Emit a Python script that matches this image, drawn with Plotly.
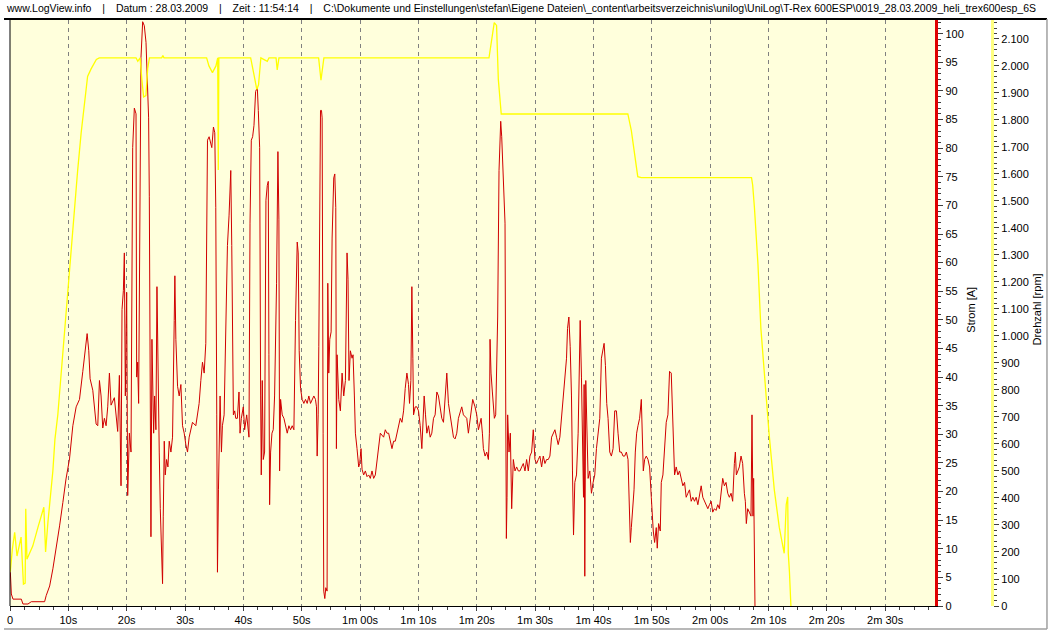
import plotly.graph_objects as go

# ---------------- data (time in seconds) ----------------
strom_t = [0.06, 0.23, 0.51, 1.94, 2.22, 3.08, 3.65, 5.93, 6.2, 6.8, 7.35, 7.9, 8.5, 9.06, 9.6, 10.2, 10.6,
           10.77, 11.34, 11.91, 12.48, 13.05, 13.22, 13.50, 13.73, 14.19, 14.76, 15.04, 15.33, 15.61, 15.90,
           16.18, 16.47, 16.75, 17.04, 17.32, 17.89, 18.46, 18.75, 19.03, 19.20, 19.43, 19.60, 19.77, 20.00,
           20.17, 20.46, 20.74, 21.03, 21.31, 21.60, 21.71, 21.88, 22.05, 22.28, 22.45, 22.74, 23.02, 23.31,
           23.59, 23.76, 23.88, 24.05, 24.16, 24.33, 24.44, 24.62, 24.79, 25.01, 25.19, 25.36, 25.58, 25.76,
           25.98, 26.15, 26.27, 26.44, 26.61, 26.84, 27.07, 27.29, 27.58, 27.86, 28.15, 28.26, 28.43, 28.72,
           29.00, 29.29, 29.57, 29.86, 30.14, 30.43, 30.71, 31.00, 31.28, 31.85, 32.14, 32.42, 32.71, 32.99,
           33.28, 33.56, 33.85, 34.13, 34.59, 34.87, 35.10, 35.27, 35.44, 35.56, 35.73, 35.84, 36.01, 36.24,
           36.41, 36.70, 36.98, 37.27, 37.55, 37.84, 38.01, 38.12, 38.29, 38.52, 38.69,
           38.97, 39.25, 39.43, 39.65, 39.99, 40.22, 40.57, 40.96, 41.14, 41.36, 41.59, 41.82, 42.10, 42.39,
           42.56, 42.79, 42.96, 43.07, 43.24, 43.41, 43.64, 43.87, 44.10, 44.27, 44.38, 44.50, 44.67, 44.90,
           45.12, 45.35, 45.69, 45.81, 45.92, 46.09, 46.21, 46.38, 46.66, 46.95, 47.23, 47.52, 47.80, 48.09,
           48.37, 48.66, 48.94, 49.23, 49.40, 49.57, 49.80, 50.08, 50.37, 50.65, 50.94, 51.22, 51.51, 51.79,
           52.08, 52.36, 52.53, 52.65, 52.82, 52.93, 53.10, 53.22, 53.39, 53.50, 53.67, 53.78, 53.96, 54.13,
           54.35, 54.47, 54.64, 54.81, 55.04, 55.21, 55.49, 55.67, 55.84, 55.95, 56.06, 56.35, 56.63, 56.92,
           57.20, 57.49, 57.77, 57.94, 58.11, 58.34, 58.63, 58.80, 59.03, 59.20, 59.48, 59.77, 59.94, 60.17,
           60.34, 60.62, 60.91, 61.19, 61.48, 61.76, 62.05, 62.33, 62.62, 62.90, 63.19, 63.47, 64.04, 64.33,
           64.61, 64.90, 65.47, 65.75, 66.04, 66.32, 66.61, 66.89, 67.18, 67.46, 67.74, 68.03, 68.31, 68.48,
           68.71, 68.88, 69.05, 69.17, 69.45, 69.74, 70.02, 70.31, 70.59, 70.76, 70.99, 71.22, 71.45, 71.73,
           72.02, 72.30, 72.59, 72.87, 73.16, 73.44, 73.73, 74.01, 74.30, 74.58, 74.87, 75.15, 75.44, 75.72,
           76.01, 76.29, 76.58, 76.86, 77.15, 77.43, 77.72, 78.29, 78.57, 78.86, 79.31, 79.71,
           80.00, 80.29, 80.57, 80.75, 80.97, 81.14, 81.43, 81.71, 82.00, 82.17, 82.28, 82.45, 82.68, 82.85,
           83.02, 83.25, 83.42, 83.59, 83.82, 83.99, 84.11, 84.28, 84.45, 84.62, 84.85, 84.96, 85.08, 85.19,
           85.30, 85.53, 85.76, 85.99, 86.10, 86.27, 86.56, 86.84, 87.13, 87.41, 87.70, 87.98, 88.27, 88.55,
           88.84, 89.12, 89.41, 89.69, 89.98, 90.26, 90.55, 90.83, 91.12, 91.40, 91.69, 91.97, 92.26, 92.54,
           92.83, 93.11, 93.40, 93.68, 93.96, 94.25, 94.53, 94.82, 95.10, 95.39, 95.56, 95.79, 96.02, 96.24,
           96.41, 96.59, 96.81, 97.10, 97.38, 97.55, 97.73, 97.95, 98.12, 98.30, 98.41, 98.52, 98.69, 98.87,
           99.09, 99.38, 99.66, 99.95, 100.23, 100.52, 100.80, 101.09, 101.37, 101.66, 101.83, 102.06, 102.28,
           102.51, 102.80, 103.08, 103.37, 103.65, 103.94, 104.22, 104.51, 104.79, 105.08, 105.36, 105.65,
           105.93, 106.16, 106.33, 106.50, 106.79, 106.96, 107.18, 107.41, 107.64, 107.92, 108.21, 108.38,
           108.55, 108.78, 109.06, 109.35, 109.63, 109.92, 110.09, 110.26, 110.49, 110.77, 110.94, 111.17,
           111.46, 111.63, 111.91, 112.20, 112.48, 112.77, 113.05, 113.34, 113.62, 113.91, 114.19, 114.48,
           114.76, 115.05, 115.33, 115.62, 115.90, 116.19, 116.47, 116.76, 117.04, 117.33, 117.61, 117.90,
           118.18, 118.47, 118.75, 119.04, 119.32, 119.61, 119.89, 120.18,
           120.45, 120.74, 121.02, 121.31, 121.59, 121.88, 122.16, 122.45, 122.73, 123.02, 123.30, 123.59,
           123.87, 124.16, 124.33, 124.50, 124.73, 125.01, 125.30, 125.58, 125.87, 126.04, 126.21, 126.44,
           126.72, 127.01, 127.18, 127.35, 127.46, 127.58, 127.69]

strom_a = [5.9, 2.1, 1.2, 1.2, 0.35, 0.35, 0.75, 0.75, 1.8, 3.5, 6.5, 9.9, 14.0, 18.1, 22.2, 25.7, 29.1,
           31.5, 34.8, 36.1, 41.0, 46.6, 47.6, 44.6, 39.7, 37.7, 31.8, 31.5, 39.4, 36.7, 31.1,
           32.8, 31.5, 34.8, 40.7, 35.1, 36.4, 30.5, 40.3, 21.0, 51.8, 55.1, 61.7, 36.7, 54.8,
           19.3, 30.2, 26.9, 80.1, 87.0, 86.0, 40.0, 42.6, 35.4, 70.9, 95.8, 102.1, 101.4, 98.5,
           90.6, 85.3, 71.5, 20.3, 12.1, 46.6, 38.0, 30.2, 36.7, 30.8, 55.8, 38.0, 26.9, 17.0,
           10.5, 3.9, 15.7, 28.8, 22.9, 25.6, 24.3, 28.8, 26.9, 29.5, 49.9, 57.7, 46.6, 38.4,
           36.7, 38.7, 31.5, 30.2, 28.2, 26.9, 29.5, 30.8, 32.1, 31.5, 33.4, 35.4, 39.4, 42.6,
           40.7, 45.9, 81.4, 82.0, 80.1, 83.7, 82.7, 69.6, 33.4, 5.9, 20.3, 31.5, 36.7, 26.9,
           31.5, 33.4, 49.9, 63.0, 68.3, 76.1, 63.0, 45.9, 33.4, 34.1, 32.8,
           32.8, 37.4, 30.2, 32.8, 34.8, 30.8, 33.4, 29.5, 66.9, 81.4, 82.0, 84.0, 89.9, 90.6,
           86.6, 80.1, 36.7, 22.9, 39.4, 25.6, 26.9, 70.9, 73.5, 74.2, 43.9, 17.7, 26.9, 30.2,
           30.8, 36.7, 56.4, 72.8, 79.4, 67.6, 23.6, 36.1, 33.4, 32.8, 31.5, 30.2, 31.5, 30.8,
           31.5, 30.8, 49.9, 63.6, 61.7, 44.6, 38.0, 36.1, 35.4, 36.1, 35.4, 36.7, 35.4, 36.1,
           36.7, 36.1, 34.8, 26.2, 33.4, 45.3, 76.1, 86.6, 86.6, 85.3, 30.2, 2.6, 1.3, 3.2,
           2.6, 56.4, 40.7, 46.6, 47.9, 64.3, 74.8, 75.5, 69.6, 27.5, 43.9, 36.1, 34.1, 40.7,
           36.7, 39.4, 61.7, 57.1, 39.4, 44.6, 43.3, 43.9, 36.7, 30.2, 27.5, 24.3, 24.9, 27.5,
           23.9, 22.9, 23.6, 22.6, 22.9, 22.3, 23.6, 22.3, 22.9, 25.6, 27.5, 30.2, 29.5, 30.8,
           30.2, 30.2, 27.5, 28.8, 28.8, 30.2, 31.5, 32.8, 32.1, 34.1, 38.0, 40.7, 38.7, 35.4,
           39.4, 55.8, 43.3, 33.4, 34.8, 34.8, 34.1, 31.5, 27.5, 32.8, 36.7, 33.4, 30.2, 31.5,
           29.5, 30.2, 32.8, 33.4, 37.4, 36.7, 34.8, 32.8, 32.1, 36.7, 40.7, 35.4, 33.4, 31.5,
           29.5, 29.2, 30.2, 32.8, 34.1, 34.8, 33.4, 32.8, 30.2, 32.8, 36.1, 34.8,
           33.4, 30.8, 32.1, 32.8, 30.2, 27.5, 26.2, 26.9, 25.6, 30.2, 46.6, 40.7, 37.4, 34.1,
           32.8, 33.4, 42.6, 50.5, 76.1, 82.7, 84.7, 82.0, 77.4, 72.8, 66.9, 37.4, 11.8, 19.0,
           33.4, 26.9, 30.2, 17.0, 22.3, 25.6, 23.6, 24.3, 23.6, 23.6, 24.3, 24.9, 23.6, 25.6,
           23.6, 26.2, 26.9, 30.8, 25.6, 24.9, 25.6, 26.2, 24.3, 26.2, 24.9, 25.6, 25.6, 26.2,
           29.5, 30.2, 30.8, 29.5, 28.2, 29.5, 32.8, 35.4, 39.4, 43.3, 48.5, 50.5, 45.3, 36.7,
           23.6, 12.4, 21.6, 22.9, 30.2, 43.9, 49.9, 40.0, 30.2, 19.0, 38.7, 5.2, 39.4, 31.5,
           22.3, 23.6, 19.7, 21.6, 22.9, 27.5, 30.2, 32.8, 43.3, 45.3, 45.9, 42.0, 35.4,
           32.8, 26.9, 26.2, 27.5, 34.1, 34.1, 30.2, 26.9, 26.9, 26.2, 26.2, 26.9,
           25.6, 17.0, 11.1, 13.7, 17.0, 20.3, 26.9, 30.2, 31.5, 32.8, 36.1, 30.2,
           23.6, 25.6, 26.2, 25.6, 24.3, 19.0, 15.1, 13.1, 11.1, 13.7, 10.1, 14.4,
           13.1, 21.6, 22.9, 28.8, 32.1, 33.4, 41.0, 40.7, 30.2, 22.9, 24.3, 22.9,
           23.6, 22.3, 21.0, 21.6, 19.0, 19.7, 20.3, 18.3, 19.0, 18.3, 19.0, 17.7,
           19.7, 21.0, 19.0, 18.3, 17.7, 17.0, 17.7, 18.3,
           16.4, 17.0, 16.7, 17.7, 17.0, 19.7, 22.3, 21.0, 21.6, 19.7, 19.0, 19.7,
           18.3, 24.9, 26.9, 22.9, 23.6, 24.3, 26.2, 24.9, 19.7, 18.3, 14.4, 17.0,
           16.4, 15.7, 33.4, 15.7, 22.3, 5.9, 0.0]

rpm_t = [0.05, 0.4, 0.8, 1.2, 1.9, 2.3, 2.6, 2.7, 2.9, 3.9, 4.8, 5.4, 5.8, 6.1, 6.5, 7.35, 7.7, 8.2,
         9.06, 9.9, 10.5, 11.05, 11.6, 12.2, 12.8, 13.3, 13.9, 14.8, 15.3, 21.6, 21.9, 22.3, 22.6,
         22.9, 23.3, 23.6, 23.9, 26.0, 26.2, 26.4, 33.7, 34.1, 34.7, 35.3, 35.6, 35.7, 35.8, 41.25,
         41.8, 42.3, 42.6, 43.0, 44.1, 44.4, 45.6, 45.8, 46.1, 52.9, 53.3, 53.8, 82.1, 82.6, 83.0,
         83.4, 83.7, 84.2, 105.9, 106.5, 107.1, 107.6, 108.2, 127.1, 127.3, 127.6, 128.2, 128.7,
         129.6, 130.1, 131.0, 131.85, 132.7, 133.05, 133.3, 133.4, 133.6, 133.85]
rpm_v = [126, 210, 273, 185, 255, 81, 85, 360, 173, 222, 292, 333, 366, 200, 310, 501, 617, 709,
         946, 1168, 1335, 1475, 1614, 1753, 1864, 1961, 1989, 2024, 2030, 2030, 2017, 2030, 1950,
         1885, 1890, 1990, 2030, 2030, 2038, 2030, 2030, 2000, 1975, 2000, 2030, 1615, 2030, 2030,
         1970, 1913, 1930, 2030, 2017, 2030, 2030, 1985, 2030, 2030, 1947, 2030, 2030, 2110, 2160,
         2150, 1950, 1822, 1822, 1760, 1660, 1590, 1586, 1586, 1558, 1475, 1266, 1029,
         779, 640, 431, 292, 195, 376, 404, 195, 125, 0]

x_tick_vals = [0, 10, 20, 30, 40, 50, 60, 70, 80, 90, 100, 110, 120, 130, 140, 150]
x_tick_text = ["0", "10s", "20s", "30s", "40s", "50s", "1m 00s", "1m 10s", "1m 20s", "1m 30s",
               "1m 40s", "1m 50s", "2m 00s", "2m 10s", "2m 20s", "2m 30s"]

header_parts = ["www.LogView.info", "Datum : 28.03.2009", "Zeit : 11:54:14",
                "C:\\Dokumente und Einstellungen\\stefan\\Eigene Dateien\\_content\\arbeitsverzeichnis\\"
                "unilog\\UniLog\\T-Rex 600ESP\\0019_28.03.2009_heli_trex600esp_6S"]

# ---------------- figure ----------------
W, H = 1050, 633
L, R, T, B = 7, 10, 20, 26
pw = W - L - R
ph = H - T - B
x_end = (935 - L) / pw
y2_pos = (992 - L) / pw


def px(xp):
    return (xp - L) / pw


def py(yp):
    return (H - B - yp) / ph


FONT = "Liberation Sans, Arial, sans-serif"

fig = go.Figure()
fig.add_trace(go.Scatter(x=rpm_t, y=rpm_v, mode="lines", yaxis="y2",
                         line=dict(color="#ffff00", width=1.3), hoverinfo="skip", showlegend=False))
fig.add_trace(go.Scatter(x=strom_t, y=strom_a, mode="lines", yaxis="y",
                         line=dict(color="#d00000", width=1), hoverinfo="skip", showlegend=False))

fig.update_layout(
    width=W, height=H,
    margin=dict(l=L, r=R, t=T, b=B, pad=0),
    paper_bgcolor="white",
    plot_bgcolor="#ffffdc",
    separators=",.",
    font=dict(family=FONT, size=11, color="black"),
    xaxis=dict(domain=[0, x_end], range=[0, 158.6], tickmode="array",
               tickvals=x_tick_vals, ticktext=x_tick_text,
               showgrid=True, gridcolor="#808080", gridwidth=1, griddash="4px,4px",
               showline=True, linecolor="black", linewidth=1,
               ticks="outside", ticklen=4, tickcolor="#404040",
               minor=dict(dtick=2.5, tick0=0, ticks="outside", ticklen=3, tickcolor="#404040", showgrid=False),
               zeroline=False, fixedrange=True),
    yaxis=dict(side="right", anchor="x", range=[0, 102.4], dtick=5, tick0=0,
               showgrid=False, zeroline=False,
               showline=True, linecolor="#e00000", linewidth=3,
               ticks="outside", ticklen=5, tickcolor="#404040",
               minor=dict(dtick=1, ticks="outside", ticklen=3, tickcolor="#404040"),
               tickfont=dict(size=11)),
    yaxis2=dict(overlaying="y", side="right", anchor="free", position=y2_pos,
                range=[0, 2170], dtick=100, tick0=0, tickformat=",d",
                showgrid=False, zeroline=False,
                showline=True, linecolor="#ffff80", linewidth=3,
                ticks="outside", ticklen=5, tickcolor="#404040",
                minor=dict(dtick=20, ticks="outside", ticklen=3, tickcolor="#404040"),
                tickfont=dict(size=11)),
)

# frame of plot area (left / top)
fig.add_shape(type="line", xref="paper", yref="paper", x0=0, x1=0, y0=0, y1=1,
              line=dict(color="black", width=1))
fig.add_shape(type="line", xref="paper", yref="paper", x0=px(1), x1=px(1047), y0=py(19), y1=py(19),
              line=dict(color="black", width=2))
# outer border
fig.add_shape(type="line", xref="paper", yref="paper", x0=px(1047), x1=px(1047),
              y0=py(630), y1=py(19), line=dict(color="#a0a0a0", width=1.5))
fig.add_shape(type="line", xref="paper", yref="paper", x0=px(1), x1=px(1047),
              y0=py(630), y1=py(630), line=dict(color="#a0a0a0", width=1.5))

# header
sep = "\u00a0\u00a0\u00a0\u2009|\u00a0\u00a0\u00a0\u2009"
header = sep.join(p.replace(" ", "\u00a0") for p in header_parts)
fig.add_annotation(xref="paper", yref="paper", x=px(1), y=py(8),
                   xanchor="left", yanchor="middle", showarrow=False,
                   text=header, font=dict(size=10.5, color="black"))
# axis titles
fig.add_annotation(xref="paper", yref="paper", x=px(970), y=py(310),
                   xanchor="center", yanchor="middle", showarrow=False, textangle=-90,
                   text="Strom [A]", font=dict(size=11, color="black"))
fig.add_annotation(xref="paper", yref="paper", x=px(1036), y=py(310),
                   xanchor="center", yanchor="middle", showarrow=False, textangle=-90,
                   text="Drehzahl [rpm]", font=dict(size=11, color="black"))

# remove the browser's default body margin so the chart sits at the page origin
fig.write_html("out.html", config={"displayModeBar": False},
               post_script="document.body.style.margin='0';")
